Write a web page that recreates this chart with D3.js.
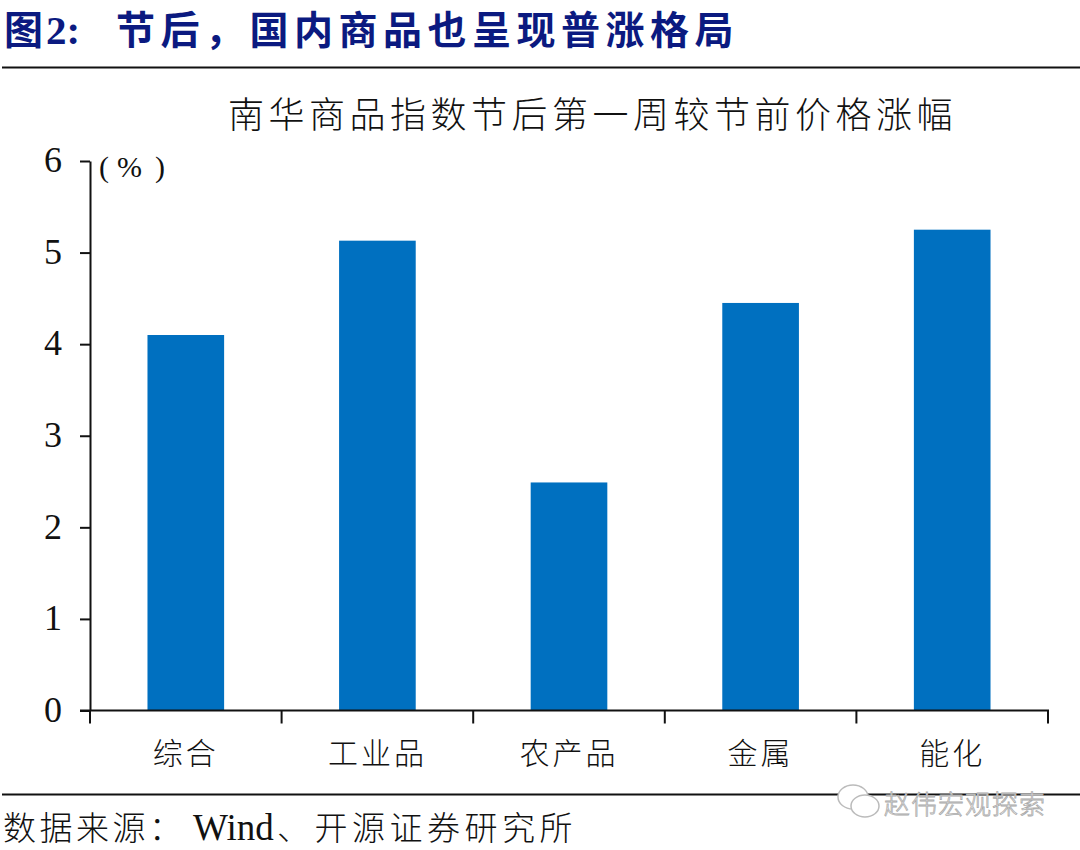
<!DOCTYPE html>
<html><head><meta charset="utf-8">
<script src="https://cdn.jsdelivr.net/npm/d3@7/dist/d3.min.js"></script>
<style>html,body{margin:0;background:#fff}svg{display:block}</style>
</head><body><div id="c"></div>
<script>
const categories = ["综合","工业品","农产品","金属","能化"];
const values = [4.10,5.13,2.49,4.45,5.25];
const yTicks = [0,1,2,3,4,5,6];
const headline = "节后，国内商品也呈现普涨格局";
const chartTitle = "南华商品指数节后第一周较节前价格涨幅";

const cjk = "'Noto Sans CJK SC','Liberation Serif',serif";
const latin = "'Liberation Serif',serif";
const svg = d3.select("#c").append("svg").attr("width",1080).attr("height",850);

const x = d3.scaleBand().domain(categories).range([90,1048]).paddingInner(0.6).paddingOuter(0.3);
const y = d3.scaleLinear().domain([0,6]).range([710.5,161]);

// header
svg.append("text").attr("x",4).attr("y",44).attr("font-family",cjk).attr("font-weight",700)
  .attr("font-size",39).attr("fill","#0b1a80").text("图");
svg.append("text").attr("x",46).attr("y",44).attr("font-family",latin).attr("font-weight",700)
  .attr("font-size",41).attr("fill","#0b1a80").text("2:");
svg.append("text").attr("x",116).attr("y",44).attr("font-family",cjk).attr("font-weight",700)
  .attr("font-size",39).attr("letter-spacing",5.5).attr("fill","#0b1a80").text(headline);
svg.append("line").attr("x1",2).attr("x2",1080).attr("y1",67.5).attr("y2",67.5).attr("stroke","#111").attr("stroke-width",2);

// chart title
svg.append("text").attr("x",228).attr("y",128).attr("font-family",cjk).attr("font-weight",300)
  .attr("font-size",36).attr("letter-spacing",4.5).attr("fill","#111").text(chartTitle);

// bars
svg.selectAll("rect.bar").data(values).join("rect").attr("class","bar")
  .attr("x",(d,i)=>x(categories[i])).attr("width",x.bandwidth())
  .attr("y",d=>y(d)).attr("height",d=>y(0)-y(d)).attr("fill","#0070c0");

// y axis
const gy = svg.append("g").attr("transform","translate(90,0)")
  .call(d3.axisLeft(y).tickValues(yTicks).tickSize(10).tickSizeOuter(0).tickPadding(18).tickFormat(d3.format("d")));
gy.selectAll("text").attr("font-family",latin).attr("font-size",36).attr("fill","#111").attr("dy","0.3em");
gy.selectAll("line,path").attr("stroke","#111").attr("stroke-width",2);

// x axis: ticks sit on category boundaries
const step = x.step();
const bounds = d3.range(categories.length+1).map(i=>90+i*step);
const gx = svg.append("g");
gx.append("line").attr("x1",80).attr("x2",1049).attr("y1",y(0)).attr("y2",y(0)).attr("stroke","#111").attr("stroke-width",2);
gx.selectAll("line.t").data(bounds).join("line").attr("class","t")
  .attr("x1",d=>d).attr("x2",d=>d).attr("y1",y(0)).attr("y2",y(0)+13).attr("stroke","#111").attr("stroke-width",2);
gx.selectAll("text").data(categories).join("text")
  .attr("x",d=>x(d)+x.bandwidth()/2).attr("y",764).attr("text-anchor","middle")
  .attr("font-family",cjk).attr("font-weight",300).attr("font-size",30).attr("letter-spacing",3).attr("fill","#111").text(d=>d);

// unit
const unit = svg.append("text").attr("y",177).attr("font-family",latin).attr("font-size",30).attr("fill","#111");
unit.append("tspan").attr("x",99).text("(");
unit.append("tspan").attr("x",117).text("%");
unit.append("tspan").attr("x",155).text(")");

// footer
svg.append("line").attr("x1",2).attr("x2",1080).attr("y1",794.5).attr("y2",794.5).attr("stroke","#111").attr("stroke-width",2);
const foot = svg.append("text").attr("y",840).attr("fill","#111").attr("font-size",33);
foot.append("tspan").attr("x",3).attr("font-family",cjk).attr("font-weight",300).attr("letter-spacing",3.5).text("数据来源：");
foot.append("tspan").attr("x",193).attr("font-family",latin).attr("font-size",37).text("Wind");
foot.append("tspan").attr("x",277).attr("font-family",cjk).attr("font-weight",300).attr("letter-spacing",4.5).text("、开源证券研究所");

// watermark
const wm = svg.append("g").attr("fill","#fff").attr("stroke","#bbb").attr("stroke-width",1.5);
wm.append("ellipse").attr("cx",853).attr("cy",797).attr("rx",15).attr("ry",12);
wm.append("ellipse").attr("cx",865).attr("cy",806).attr("rx",14).attr("ry",11);
svg.append("text").attr("x",884).attr("y",814).attr("font-family",cjk).attr("font-weight",300)
  .attr("font-size",26).attr("letter-spacing",1).attr("fill","#fff").attr("stroke","#aaa").attr("stroke-width",0.8).text("赵伟宏观探索");
</script></body></html>
